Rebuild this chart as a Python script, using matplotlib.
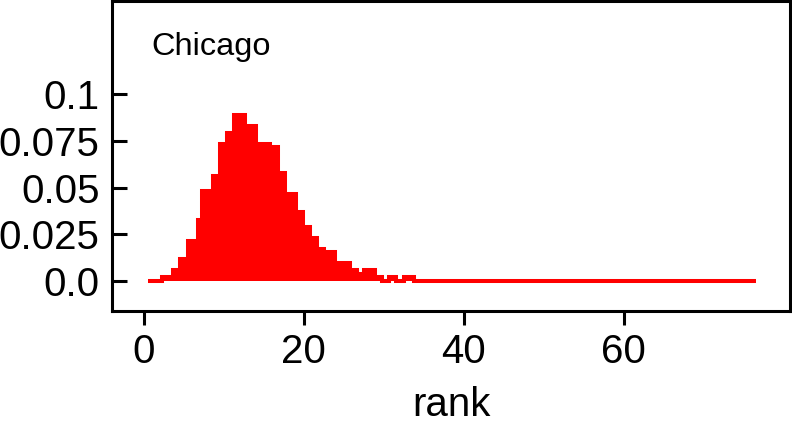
import numpy as np
import matplotlib
matplotlib.use("Agg")
import matplotlib.pyplot as plt

plt.rcParams["font.family"] = ["Liberation Sans", "DejaVu Sans"]

# Histogram of the Chicago rank distribution (fraction per bin)
city = "Chicago"
rank_edge_start = 0.55
rank_bin_width = 0.45
# (number of consecutive bins, fraction in each bin)
freq_runs = [
    (4, 0.0), (3, 0.0021), (2, 0.0059), (2, 0.0117), (3, 0.0214),
    (1, 0.0326), (3, 0.0481), (2, 0.0561), (2, 0.0731), (2, 0.0790),
    (3, 0.0886), (3, 0.0828), (4, 0.0731), (2, 0.0715), (2, 0.0577),
    (3, 0.0464), (2, 0.0368), (2, 0.0288), (2, 0.0230), (2, 0.0171),
    (3, 0.0155), (4, 0.0096), (2, 0.0059), (2, 0.0037), (3, 0.0059),
    (2, 0.0021), (2, 0.0), (2, 0.0021), (2, 0.0), (3, 0.0021),
    (95, 0.0),
]
x_ticks = [0, 20, 40, 60]
y_ticks = [0.0, 0.025, 0.05, 0.075, 0.1]
y_tick_labels = ["0.0", "0.025", "0.05", "0.075", "0.1"]

run_len = [n for n, _ in freq_runs]
run_val = [v for _, v in freq_runs]
freq = np.repeat(run_val, run_len)
edges = rank_edge_start + rank_bin_width * np.arange(len(freq) + 1)

W, H = 792, 423
fig = plt.figure(figsize=(W / 100, H / 100), dpi=100)
left, right, top, bottom = 112, 790, 1, 310.5
ax = fig.add_axes([left / W, 1 - bottom / H, (right - left) / W, (bottom - top) / H])

red = "#ff0000"
ax.stairs(freq, edges, fill=True, color=red, linewidth=0)
ax.stairs(freq, edges, baseline=None, color=red, linewidth=2.9)

ax.set_xlim(-3.94, 80.8)
ax.set_ylim(-0.0156, 0.1497)

ax.set_xticks(x_ticks)
ax.set_xticklabels([str(t) for t in x_ticks])
ax.set_yticks(y_ticks)
ax.set_yticklabels(y_tick_labels)

for s in ax.spines.values():
    s.set_linewidth(2.2)
    s.set_color("black")

ax.tick_params(axis="x", direction="out", length=10, width=2.2, labelsize=29, pad=6.5)
ax.tick_params(axis="y", direction="in", length=11, width=2.2, labelsize=29, pad=9)

ax.set_xlabel("rank", fontsize=29, labelpad=10.5)
ax.text(1.0, 0.1208, city, fontsize=23.4, va="baseline", ha="left")

fig.savefig("out.png", dpi=100)
